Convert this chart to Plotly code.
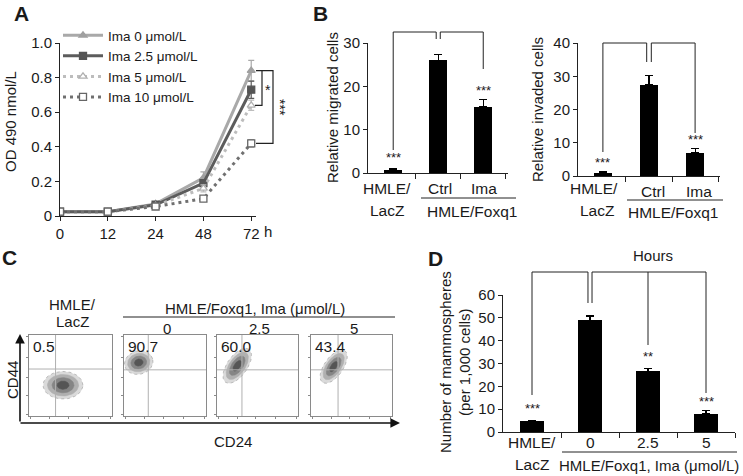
import math
import plotly.graph_objects as go

W, H = 743, 476
FONT = "Liberation Sans, Arial, sans-serif"
INK = "#1a1a1a"


def fx(p):
    return p / W


def fy(p):
    return 1 - p / H


# ---------------- data ----------------
# Panel A: proliferation (OD 490)
times = ["0", "12", "24", "48", "72"]
ima0 = [0.025, 0.025, 0.07, 0.22, 0.84]
ima0_err = [0.004, 0.004, 0.008, 0.035, 0.06]
ima25 = [0.025, 0.025, 0.065, 0.19, 0.73]
ima25_err = [0.004, 0.004, 0.008, 0.02, 0.05]
ima5 = [0.025, 0.025, 0.06, 0.16, 0.64]
ima5_err = [0.004, 0.004, 0.006, 0.02, 0.03]
ima10 = [0.025, 0.025, 0.055, 0.10, 0.42]
ima10_err = [0.003, 0.003, 0.005, 0.01, 0.02]
series_names = ["Ima 0 μmol/L", "Ima 2.5 μmol/L", "Ima 5 μmol/L", "Ima 10 μmol/L"]

# Panel B: migration / invasion
b_groups = ["HMLE/LacZ", "Ctrl", "Ima"]
migrated = [0.8, 26.0, 15.3]
migrated_err = [0.3, 1.4, 1.6]
invaded = [1.0, 27.5, 7.0]
invaded_err = [0.2, 2.7, 1.3]

# Panel C: flow cytometry (CD44 high / CD24 low %)
c_groups = ["HMLE/LacZ", "0", "2.5", "5"]
c_percent = ["0.5", "90.7", "60.0", "43.4"]
cloud_cx = [2.05, 0.9, 1.25, 1.4]
cloud_cy = [1.9, 3.3, 3.1, 3.05]
cloud_rx = [1.2, 0.88, 1.25, 1.2]
cloud_ry = [0.85, 0.72, 0.62, 0.58]
cloud_angle = [0, 15, 55, 55]
quad_x = [1.6, 1.48, 1.54, 1.67]
quad_y = [2.9, 2.85, 2.85, 2.85]

# Panel D: mammospheres
d_groups = ["HMLE/LacZ", "0", "2.5", "5"]
mammo = [4.8, 49.0, 26.5, 8.0]
mammo_err = [0.3, 1.8, 1.2, 1.5]

fig = go.Figure()
ann = []
shapes = []


def text(t, x, y, size=15, xref="paper", yref="paper", **kw):
    d = dict(text=t, x=x, y=y, xref=xref, yref=yref, showarrow=False,
             font=dict(size=size, color=INK, family=FONT),
             xanchor="center", yanchor="middle")
    d.update(kw)
    ann.append(d)


def axis_common(**kw):
    d = dict(showline=True, linecolor="#222", linewidth=1, ticks="outside",
             ticklen=4, tickcolor="#222", showgrid=False, zeroline=False,
             automargin=False,
             tickfont=dict(size=15, color=INK, family=FONT), fixedrange=True)
    d.update(kw)
    return d


# ---------------- Panel A ----------------
xi = list(range(len(times)))
styleA = [
    dict(color="#a9a9a9", dash="solid", sym="triangle-up", mfill="#a0a0a0", mline="#a0a0a0"),
    dict(color="#5c5c5c", dash="solid", sym="square", mfill="#555555", mline="#555555"),
    dict(color="#bdbdbd", dash="3px,4px", sym="triangle-up", mfill="white", mline="#b0b0b0"),
    dict(color="#707070", dash="3px,4px", sym="square", mfill="white", mline="#666666"),
]
for vals, errs, name, st in zip([ima0, ima25, ima5, ima10],
                                [ima0_err, ima25_err, ima5_err, ima10_err],
                                series_names, styleA):
    fig.add_trace(go.Scatter(
        x=xi, y=vals, name=name, mode="lines+markers",
        line=dict(color=st["color"], width=3, dash=st["dash"]),
        marker=dict(symbol=st["sym"], size=7, color=st["mfill"],
                    line=dict(color=st["mline"], width=1.3)),
        error_y=dict(type="data", array=errs, visible=True, color=st["color"],
                     thickness=1.2, width=3),
        xaxis="x", yaxis="y", showlegend=True))

layout_axes = {}
layout_axes["xaxis"] = axis_common(domain=[fx(60), fx(256)], range=[0, 4.1],
                                   tickvals=xi, ticktext=times, anchor="y")
layout_axes["yaxis"] = axis_common(domain=[fy(216), fy(43)], range=[0, 1.0],
                                   tickvals=[0, 0.2, 0.4, 0.6, 0.8, 1.0],
                                   ticktext=["0", "0.2", "0.4", "0.6", "0.8", "1.0"],
                                   anchor="x")
text("OD 490 nmol/L", fx(11), fy(122), size=15, textangle=-90)
text("h", fx(268), fy(231), size=15)
text("<b>A</b>", fx(21), fy(13), size=21)

# significance brackets (y from data)
shapes.append(dict(type="path", xref="paper", yref="y",
                   path=f"M {fx(256)},{ima0[-1]} L {fx(262)},{ima0[-1]} L {fx(262)},{ima5[-1]} L {fx(255)},{ima5[-1]}",
                   line=dict(color="#222", width=1.2)))
shapes.append(dict(type="path", xref="paper", yref="y",
                   path=f"M {fx(262)},{ima0[-1]} L {fx(273)},{ima0[-1]} L {fx(273)},{ima10[-1]} L {fx(256)},{ima10[-1]}",
                   line=dict(color="#222", width=1.2)))
text("*", fx(268), (ima0[-1] + ima5[-1]) / 2 - 0.01, size=14, yref="y")
text("***", fx(280), (ima0[-1] + ima10[-1]) / 2, size=14, yref="y", textangle=90)


# ---------------- Panel B ----------------
def bar_panel(xa, ya, vals, errs, xdom, xrange_, ydom, yrange_, ytickvals):
    n = len(vals)
    fig.add_trace(go.Bar(
        x=list(range(n)), y=vals, width=0.4, marker=dict(color="black", line=dict(width=0)),
        error_y=dict(type="data", array=errs, arrayminus=[0] * n, symmetric=False,
                     color="black", thickness=1.2, width=4),
        xaxis=xa, yaxis=ya, showlegend=False))
    xk = "xaxis" + xa[1:]
    yk = "yaxis" + ya[1:]
    layout_axes[xk] = axis_common(domain=xdom, range=xrange_,
                                  tickvals=[i + 0.5 for i in range(n)],
                                  showticklabels=False, anchor=ya, ticklen=5)
    layout_axes[yk] = axis_common(domain=ydom, range=yrange_, tickvals=ytickvals,
                                  anchor=xa)


bar_panel("x2", "y2", migrated, migrated_err, [fx(368), fx(508)], [-0.56, 2.55],
          [fy(173), fy(43)], [0, 30], [0, 10, 20, 30])
bar_panel("x3", "y3", invaded, invaded_err, [fx(578), fx(720)], [-0.54, 2.54],
          [fy(176), fy(43)], [0, 40], [0, 10, 20, 30, 40])

text("<b>B</b>", fx(320), fy(13), size=21)
text("Relative migrated cells", fx(333), fy(108), size=15, textangle=-90)
text("Relative invaded cells", fx(537), fy(110), size=15, textangle=-90)

# category labels B left
text("HMLE/", 0, fy(189), xref="x2", xshift=-6, size=15.5)
text("LacZ", 0, fy(210), xref="x2", xshift=-6, size=15.5)
text(b_groups[1], 1, fy(189), xref="x2", xshift=2, size=15.5)
text(b_groups[2], 2, fy(189), xref="x2", xshift=1, size=15.5)
text("HMLE/Foxq1", fx(472), fy(211), size=15.5)
shapes.append(dict(type="line", xref="paper", yref="paper", x0=fx(421), x1=fx(516),
                   y0=fy(198), y1=fy(198), line=dict(color="#222", width=1)))
# category labels B right
text("HMLE/", 0, fy(189), xref="x3", xshift=-9, size=15.5)
text("LacZ", 0, fy(210), xref="x3", xshift=-6, size=15.5)
text(b_groups[1], 1, fy(191), xref="x3", xshift=4, size=15.5)
text(b_groups[2], 2, fy(191), xref="x3", xshift=4, size=15.5)
text("HMLE/Foxq1", fx(673), fy(213), size=15.5)
shapes.append(dict(type="line", xref="paper", yref="paper", x0=fx(627), x1=fx(723),
                   y0=fy(200), y1=fy(200), line=dict(color="#222", width=1)))


def brackets(xref, top, left_bot, mid_bot, right_targets, dx):
    shapes.append(dict(type="path", xref=xref, yref="paper",
                       path=f"M 0,{fy(left_bot)} L 0,{fy(top)} L {1 - dx},{fy(top)} L {1 - dx},{fy(mid_bot)}",
                       line=dict(color="#222", width=1)))
    last = right_targets[-1][0]
    p = f"M {1 + dx},{fy(mid_bot)} L {1 + dx},{fy(top)} L {last},{fy(top)} L {last},{fy(right_targets[-1][1])}"
    shapes.append(dict(type="path", xref=xref, yref="paper", path=p,
                       line=dict(color="#222", width=1)))
    for xv, yb in right_targets[:-1]:
        shapes.append(dict(type="line", xref=xref, yref="paper", x0=xv, x1=xv,
                           y0=fy(top), y1=fy(yb), line=dict(color="#222", width=1)))


brackets("x2", 32, 150, 39, [(2, 69)], 0.045)
text("***", 0, fy(158), xref="x2", size=13)
text("***", 2, fy(90), xref="x2", size=13)
brackets("x3", 43, 152, 62, [(2, 133)], 0.05)
text("***", 0, fy(162), xref="x3", size=13)
text("***", 2, fy(139), xref="x3", size=13)

# ---------------- Panel C ----------------
box_x = [(29, 112), (124, 206), (217, 298), (311, 392)]
box_y = (335, 416)
for i in range(4):
    k = i + 5
    xa, ya = f"x{k}", f"y{k}"
    common = dict(range=[0, 5], showline=True, mirror=True, linecolor="#8a8a8a", linewidth=1,
                  ticks="outside", ticklen=2, tickcolor="#8a8a8a",
                  tickvals=[0.1, 1.25, 2.4, 3.6, 4.9], showticklabels=False,
                  showgrid=False, zeroline=False, fixedrange=True, automargin=False)
    layout_axes[f"xaxis{k}"] = dict(domain=[fx(box_x[i][0]), fx(box_x[i][1])], anchor=ya, **common)
    layout_axes[f"yaxis{k}"] = dict(domain=[fy(box_y[1]), fy(box_y[0])], anchor=xa, **common)
    # quadrant gates
    shapes.append(dict(type="line", xref=xa, yref=ya, x0=quad_x[i], x1=quad_x[i], y0=0, y1=5,
                       line=dict(color="#b0b0b0", width=1)))
    shapes.append(dict(type="line", xref=xa, yref=ya, x0=0, x1=5, y0=quad_y[i], y1=quad_y[i],
                       line=dict(color="#b0b0b0", width=1)))
    # density cloud as concentric ellipses
    a = math.radians(cloud_angle[i])
    for s, col in [(1.0, "#dadada"), (0.78, "#b0b0b0"), (0.55, "#858585"), (0.3, "#555555")]:
        xs, ys = [], []
        for j in range(61):
            t = 2 * math.pi * j / 60
            ex = cloud_rx[i] * s * math.cos(t)
            ey = cloud_ry[i] * s * math.sin(t)
            xs.append(cloud_cx[i] + ex * math.cos(a) - ey * math.sin(a))
            ys.append(cloud_cy[i] + ex * math.sin(a) + ey * math.cos(a))
        fig.add_trace(go.Scatter(x=xs, y=ys, mode="lines", fill="toself", fillcolor=col,
                                 line=dict(color="#9a9a9a" if s == 1.0 else col, width=0.6,
                                           dash="dot" if s == 1.0 else "solid"),
                                 xaxis=xa, yaxis=ya, showlegend=False, hoverinfo="skip"))
    text(c_percent[i], fx(box_x[i][0] + 2), fy(346), size=15.5, xanchor="left")

text("<b>C</b>", fx(9), fy(257), size=21)
text("HMLE/", fx(72), fy(304), size=15)
text("LacZ", fx(72), fy(321), size=15)
text("HMLE/Foxq1, Ima (μmol/L)", fx(255), fy(308), size=15)
shapes.append(dict(type="line", xref="paper", yref="paper", x0=fx(123), x1=fx(395),
                   y0=fy(317), y1=fy(317), line=dict(color="#222", width=1.2)))
for i, lab in enumerate(c_groups[1:]):
    bx = box_x[i + 1]
    text(lab, fx((bx[0] + bx[1]) / 2 + 2), fy(328), size=15)
# axes arrows
ann.append(dict(x=fx(20), y=fy(334), xref="paper", yref="paper", ax=0, ay=89,
                axref="pixel", ayref="pixel", text="", showarrow=True,
                arrowhead=2, arrowsize=1.2, arrowwidth=1.6, arrowcolor="#111"))
ann.append(dict(x=fx(400), y=fy(423), xref="paper", yref="paper", ax=-381, ay=0,
                axref="pixel", ayref="pixel", text="", showarrow=True,
                arrowhead=2, arrowsize=1.2, arrowwidth=1.6, arrowcolor="#111"))
text("CD44", fx(12), fy(380), size=15, textangle=-90)
text("CD24", fx(233), fy(441), size=15)

# ---------------- Panel D ----------------
bar_panel("x4", "y4", mammo, mammo_err, [fx(503), fx(735)], [-0.5, 3.5],
          [fy(432), fy(295)], [0, 60], [0, 10, 20, 30, 40, 50, 60])
text("<b>D</b>", fx(435), fy(258), size=21)
text("Hours", fx(653), fy(255), size=15)
text("Number of mammospheres", fx(445), fy(362), size=15, textangle=-90)
text("(per 1,000 cells)", fx(464), fy(362), size=15, textangle=-90)
text("HMLE/", 0, fy(442), xref="x4", size=15.5)
text("LacZ", 0, fy(464), xref="x4", size=15.5)
for i, lab in enumerate(d_groups[1:]):
    text(lab, i + 1, fy(442), xref="x4", size=15.5)
text("HMLE/Foxq1, Ima (μmol/L)", fx(649), fy(465), size=15)
shapes.append(dict(type="line", xref="paper", yref="paper", x0=fx(562), x1=fx(737),
                   y0=fy(452), y1=fy(452), line=dict(color="#222", width=1)))
brackets("x4", 272, 395, 303, [(2, 345), (3, 393)], 0.035)
text("***", 0, fy(408), xref="x4", size=13)
text("**", 2, fy(356), xref="x4", size=13)
text("***", 3, fy(401), xref="x4", size=13)

fig.update_layout(
    template="none",
    width=W, height=H, autosize=False, margin=dict(l=0, r=0, t=0, b=0, pad=0),
    paper_bgcolor="white", plot_bgcolor="white",
    font=dict(family=FONT, color=INK),
    annotations=ann, shapes=shapes, bargap=0,
    legend=dict(x=fx(58), y=fy(20), xanchor="left", yanchor="top",
                bgcolor="rgba(0,0,0,0)", borderwidth=0,
                font=dict(size=13.5, color=INK, family=FONT),
                tracegroupgap=0, itemwidth=40),
    **layout_axes,
)

fig.write_html("out.html", config={"displayModeBar": False},
               post_script="document.body.style.margin='0px';document.body.style.overflow='hidden';")
